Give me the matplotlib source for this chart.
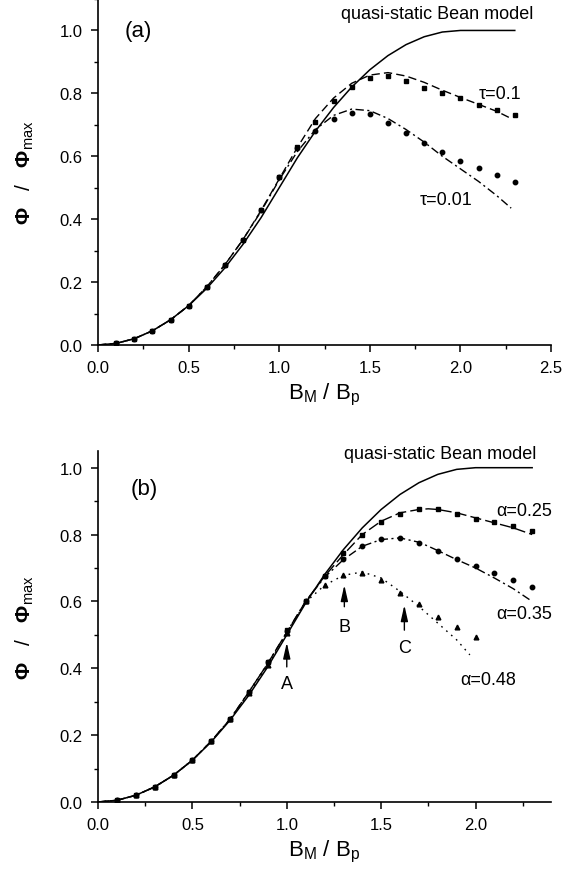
import matplotlib
matplotlib.use("Agg")
import matplotlib.pyplot as plt
from matplotlib.ticker import MultipleLocator

plt.rcParams['font.family'] = ['Liberation Sans', 'DejaVu Sans']
plt.rcParams['mathtext.fontset'] = 'custom'
plt.rcParams['mathtext.rm'] = 'Liberation Sans'
plt.rcParams['mathtext.it'] = 'Liberation Sans'
plt.rcParams['mathtext.bf'] = 'Liberation Sans:bold'

# quasi-static Bean model (same curve in both panels)
bean_x = [0.0, 0.1, 0.2, 0.3, 0.4, 0.5, 0.6, 0.7, 0.8, 0.9, 1.0, 1.1, 1.2,
          1.3, 1.4, 1.5, 1.6, 1.7, 1.8, 1.9, 2.0, 2.3]
bean_y = [0.0, 0.005, 0.02, 0.045, 0.08, 0.125, 0.18, 0.245, 0.32, 0.405, 0.5,
          0.595, 0.68, 0.755, 0.82, 0.875, 0.92, 0.955, 0.98, 0.995, 1.0, 1.0]

# panel (a) measured points
pts_x = [0.1, 0.2, 0.3, 0.4, 0.5, 0.6, 0.7, 0.8, 0.9, 1.0, 1.1, 1.2, 1.3,
         1.4, 1.5, 1.6, 1.7, 1.8, 1.9, 2.0, 2.1, 2.2, 2.3]
tau01_pts = [0.005, 0.02, 0.045, 0.08, 0.125, 0.185, 0.255, 0.335, 0.43, 0.535,
             0.63, 0.71, 0.776, 0.821, 0.848, 0.855, 0.839, 0.818, 0.80, 0.784,
             0.763, 0.747, 0.731]
tau001_pts = [0.005, 0.02, 0.045, 0.08, 0.125, 0.185, 0.255, 0.335, 0.43, 0.535,
              0.625, 0.68, 0.72, 0.739, 0.733, 0.705, 0.673, 0.641, 0.613,
              0.586, 0.562, 0.54, 0.518]

# panel (a) model curves
fit_x = [0.0, 0.1, 0.2, 0.3, 0.4, 0.5, 0.6, 0.7, 0.8, 0.9, 1.0, 1.1, 1.2, 1.3,
         1.4, 1.5, 1.6, 1.7, 1.8, 1.9, 2.0, 2.1, 2.2, 2.28]
tau01_fit = [0.0, 0.005, 0.02, 0.045, 0.08, 0.125, 0.185, 0.255, 0.335, 0.428,
             0.528, 0.628, 0.72, 0.785, 0.832, 0.858, 0.866, 0.855, 0.835,
             0.81, 0.787, 0.765, 0.743, 0.72]
tau001_fit = [0.0, 0.005, 0.02, 0.045, 0.08, 0.125, 0.185, 0.255, 0.335, 0.425,
              0.525, 0.615, 0.685, 0.73, 0.75, 0.745, 0.72, 0.685, 0.645, 0.6,
              0.56, 0.52, 0.475, 0.435]

# panel (b) measured points
a25_x = pts_x
a25_pts = [0.005, 0.02, 0.045, 0.08, 0.125, 0.182, 0.248, 0.33, 0.42, 0.515,
           0.6, 0.675, 0.745, 0.798, 0.837, 0.862, 0.876, 0.875, 0.862, 0.848,
           0.838, 0.825, 0.811]
a35_x = pts_x
a35_pts = [0.005, 0.02, 0.045, 0.08, 0.125, 0.182, 0.248, 0.33, 0.42, 0.512,
           0.6, 0.675, 0.728, 0.765, 0.788, 0.79, 0.776, 0.752, 0.728, 0.706,
           0.685, 0.664, 0.644]
a48_x = [0.1, 0.2, 0.3, 0.4, 0.5, 0.6, 0.7, 0.8, 0.9, 1.0, 1.1, 1.2, 1.3,
         1.4, 1.5, 1.6, 1.7, 1.8, 1.9, 2.0]
a48_pts = [0.005, 0.02, 0.045, 0.08, 0.125, 0.182, 0.248, 0.325, 0.41, 0.505,
           0.6, 0.649, 0.679, 0.684, 0.664, 0.624, 0.591, 0.554, 0.522, 0.494]

# panel (b) model curves
bfit_x = [0.0, 0.1, 0.2, 0.3, 0.4, 0.5, 0.6, 0.7, 0.8, 0.9, 1.0, 1.1, 1.2,
          1.3, 1.4, 1.5, 1.6, 1.7, 1.75, 1.8, 1.9, 2.0, 2.1, 2.2, 2.3]
a25_fit = [0.0, 0.005, 0.02, 0.045, 0.08, 0.125, 0.182, 0.248, 0.33, 0.415,
           0.508, 0.6, 0.675, 0.74, 0.8, 0.84, 0.865, 0.875, 0.877, 0.875,
           0.865, 0.85, 0.835, 0.82, 0.80]
a35_fit = [0.0, 0.005, 0.02, 0.045, 0.08, 0.125, 0.182, 0.248, 0.33, 0.415,
           0.508, 0.6, 0.672, 0.725, 0.765, 0.785, 0.79, 0.777, 0.765, 0.752,
           0.725, 0.70, 0.67, 0.638, 0.60]
a48_fx = [0.0, 0.1, 0.2, 0.3, 0.4, 0.5, 0.6, 0.7, 0.8, 0.9, 1.0, 1.1, 1.2,
          1.3, 1.4, 1.5, 1.6, 1.7, 1.8, 1.9, 1.97]
a48_fit = [0.0, 0.005, 0.02, 0.045, 0.08, 0.125, 0.182, 0.248, 0.325, 0.41,
           0.505, 0.598, 0.648, 0.678, 0.688, 0.67, 0.63, 0.585, 0.535, 0.485,
           0.44]

# arrows in panel (b): label, x, tail y, tip y, text y
arrow_lbl = ['A', 'B', 'C']
arrow_x = [1.0, 1.305, 1.623]
arrow_tail = [0.404, 0.584, 0.514]
arrow_tip = [0.477, 0.649, 0.589]
arrow_txt = [0.354, 0.524, 0.461]

fig = plt.figure(figsize=(5.64, 8.79), dpi=100)
ax1 = fig.add_axes([0.1738, 0.6064, 0.8032, 0.3936])
ax2 = fig.add_axes([0.1738, 0.0865, 0.8032, 0.3993])


def style(ax, xmax, ymax):
    ax.set_xlim(0, xmax)
    ax.set_ylim(0, ymax)
    for s in ['top', 'right']:
        ax.spines[s].set_visible(False)
    for s in ['left', 'bottom']:
        ax.spines[s].set_linewidth(1.2)
    ax.xaxis.set_major_locator(MultipleLocator(0.5))
    ax.xaxis.set_minor_locator(MultipleLocator(0.25))
    ax.yaxis.set_major_locator(MultipleLocator(0.2))
    ax.yaxis.set_minor_locator(MultipleLocator(0.1))
    ax.tick_params(which='major', direction='out', length=5, width=1.1,
                   labelsize=12, pad=6)
    ax.tick_params(which='minor', direction='out', length=3, width=1.0)
    ax.set_xlabel(r'B$_{\rm M}$ / B$_{\rm p}$', fontsize=16, labelpad=4)
    ax.set_ylabel(r'$\mathbf{\Phi}$   /   $\mathbf{\Phi}_{\rm max}$', fontsize=15,
                  labelpad=17)


# panel (a)
ax1.plot(bean_x, bean_y, color='k', lw=1.1)
ax1.plot(fit_x, tau01_fit, color='k', lw=1.0, dashes=(6, 3))
ax1.plot(fit_x, tau001_fit, color='k', lw=1.0, dashes=(6, 2.5, 1.5, 2.5))
ax1.plot(pts_x, tau01_pts, 's', color='k', ms=3.2, ls='none')
ax1.plot(pts_x, tau001_pts, 'o', color='k', ms=3.2, ls='none')
style(ax1, 2.5, 1.1)
ax1.text(1.87, 1.055, 'quasi-static Bean model', ha='center', va='center',
         fontsize=13)
ax1.text(0.22, 1.0, '(a)', ha='center', va='center', fontsize=16)
ax1.text(2.22, 0.80, 'τ=0.1', ha='center', va='center', fontsize=13)
ax1.text(1.92, 0.461, 'τ=0.01', ha='center', va='center', fontsize=13)

# panel (b)
ax2.plot(bean_x, bean_y, color='k', lw=1.1)
ax2.plot(bfit_x, a25_fit, color='k', lw=1.0, dashes=(8, 3))
ax2.plot(bfit_x, a35_fit, color='k', lw=1.0, dashes=(6, 2.5, 1.5, 2.5))
ax2.plot(a48_fx, a48_fit, color='k', lw=1.0, dashes=(1.2, 3.5))
ax2.plot(a25_x, a25_pts, 's', color='k', ms=3.2, ls='none')
ax2.plot(a35_x, a35_pts, 'o', color='k', ms=3.2, ls='none')
ax2.plot(a48_x, a48_pts, '^', color='k', ms=3.4, ls='none')
style(ax2, 2.4, 1.05)
ax2.text(1.813, 1.043, 'quasi-static Bean model', ha='center', va='center',
         fontsize=13)
ax2.text(0.246, 0.938, '(b)', ha='center', va='center', fontsize=16)
ax2.text(2.26, 0.873, 'α=0.25', ha='center', va='center', fontsize=13)
ax2.text(2.26, 0.564, 'α=0.35', ha='center', va='center', fontsize=13)
ax2.text(2.067, 0.367, 'α=0.48', ha='center', va='center', fontsize=13)
for lbl, x, y0, y1, yt in zip(arrow_lbl, arrow_x, arrow_tail, arrow_tip, arrow_txt):
    ax2.annotate('', xy=(x, y1), xytext=(x, y0),
                 arrowprops=dict(arrowstyle='-|>,head_length=0.8,head_width=0.18',
                                 color='k', lw=1.0, mutation_scale=12,
                                 shrinkA=0, shrinkB=0))
    ax2.text(x, yt, lbl, ha='center', va='center', fontsize=13)

fig.savefig('out.png', dpi=100)
